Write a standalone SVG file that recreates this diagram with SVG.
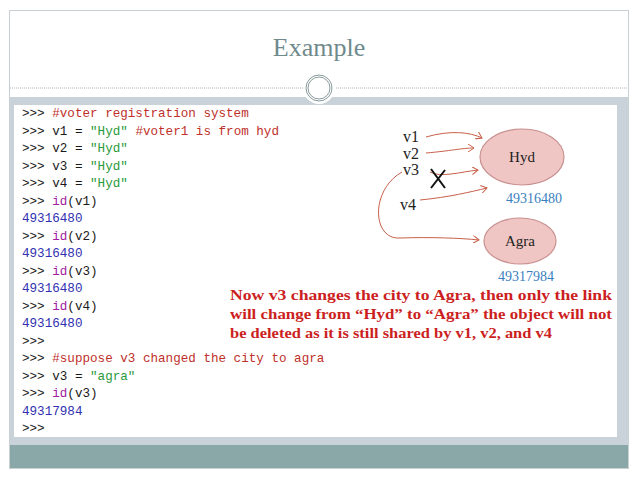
<svg xmlns="http://www.w3.org/2000/svg" width="638" height="478" viewBox="0 0 638 478" xml:space="preserve">
<style>
.c{font-family:"Liberation Mono",monospace;font-size:12.6px}
.p{fill:#1a1a1a}.r{fill:#c0302a}.g{fill:#2a9a3a}.b{fill:#3030b0}.m{fill:#a020a0}
.s{font-family:"Liberation Serif",serif}
.e{fill:#f0c6c4;stroke:#c89090;stroke-width:1.2}
.a{fill:none;stroke:#c8604a;stroke-width:1}
</style>
<defs><marker id="ar" markerWidth="8" markerHeight="8" refX="6" refY="4" orient="auto" markerUnits="userSpaceOnUse"><path d="M0,0 L6,4 L0,8" fill="none" stroke="#c8604a"/></marker></defs>
<rect width="638" height="478" fill="#fff"/>
<rect x="9.5" y="10.5" width="619" height="458" fill="none" stroke="#c8d0d4"/>
<text x="319" y="56" text-anchor="middle" class="s" font-size="26" fill="#6f8a8c">Example</text>
<line x1="10" y1="88" x2="628" y2="88" stroke="#aab4b8" stroke-dasharray="1,1"/>
<rect x="10" y="97" width="618" height="348" fill="#c8d2d8"/>
<rect x="10" y="445" width="618" height="23" fill="#8aa8a8"/>
<circle cx="319" cy="88" r="16" fill="#fff"/>
<circle cx="319" cy="88" r="13" fill="none" stroke="#8a9a9c"/>
<circle cx="319" cy="88" r="11" fill="none" stroke="#8a9a9c"/>
<rect x="14" y="105" width="603" height="332" fill="#fff"/>
<g id="code" class="c">
<text x="22" y="117"><tspan class="p">&gt;&gt;&gt; </tspan><tspan class="r">#voter registration system</tspan></text>
<text x="22" y="134.5"><tspan class="p">&gt;&gt;&gt; v1 = </tspan><tspan class="g">"Hyd"</tspan><tspan class="r">  #voter1 is from hyd</tspan></text>
<text x="22" y="152"><tspan class="p">&gt;&gt;&gt; v2 = </tspan><tspan class="g">"Hyd"</tspan></text>
<text x="22" y="169.5"><tspan class="p">&gt;&gt;&gt; v3 = </tspan><tspan class="g">"Hyd"</tspan></text>
<text x="22" y="187"><tspan class="p">&gt;&gt;&gt; v4 = </tspan><tspan class="g">"Hyd"</tspan></text>
<text x="22" y="204.5"><tspan class="p">&gt;&gt;&gt; </tspan><tspan class="m">id</tspan><tspan class="p">(v1)</tspan></text>
<text x="22" y="222" class="b">49316480</text>
<text x="22" y="239.5"><tspan class="p">&gt;&gt;&gt; </tspan><tspan class="m">id</tspan><tspan class="p">(v2)</tspan></text>
<text x="22" y="257" class="b">49316480</text>
<text x="22" y="274.5"><tspan class="p">&gt;&gt;&gt; </tspan><tspan class="m">id</tspan><tspan class="p">(v3)</tspan></text>
<text x="22" y="292" class="b">49316480</text>
<text x="22" y="309.5"><tspan class="p">&gt;&gt;&gt; </tspan><tspan class="m">id</tspan><tspan class="p">(v4)</tspan></text>
<text x="22" y="327" class="b">49316480</text>
<text x="22" y="344.5" class="p">&gt;&gt;&gt;</text>
<text x="22" y="362"><tspan class="p">&gt;&gt;&gt; </tspan><tspan class="r">#suppose v3 changed the city to agra</tspan></text>
<text x="22" y="379.5"><tspan class="p">&gt;&gt;&gt; v3 = </tspan><tspan class="g">"agra"</tspan></text>
<text x="22" y="397"><tspan class="p">&gt;&gt;&gt; </tspan><tspan class="m">id</tspan><tspan class="p">(v3)</tspan></text>
<text x="22" y="414.5" class="b">49317984</text>
<text x="22" y="432" class="p">&gt;&gt;&gt;</text>
</g>
<g id="hyd"><ellipse class="e" cx="522" cy="157" rx="42" ry="28"/><text x="522" y="162" text-anchor="middle" class="s" font-size="15" fill="#222">Hyd</text></g>
<g id="agra"><ellipse class="e" cx="520" cy="241" rx="36" ry="23"/><text x="520" y="246" text-anchor="middle" class="s" font-size="15" fill="#222">Agra</text></g>
<g id="labels" class="s" font-size="16" fill="#222">
<text x="403" y="142">v1</text><text x="403" y="159">v2</text><text x="403" y="175">v3</text><text x="400" y="210">v4</text>
<text x="534" y="203" text-anchor="middle" font-size="14" fill="#3a80c0">49316480</text>
<text x="526" y="281" text-anchor="middle" font-size="14" fill="#3a80c0">49317984</text>
</g>
<g id="connectors">
<path class="a" d="M426,137 C450,130 470,132 482,138" marker-end="url(#ar)"/>
<path class="a" d="M426,153 C450,151 462,148 474,148" marker-end="url(#ar)"/>
<path class="a" d="M430,172 C440,178 460,172 478,170" marker-end="url(#ar)"/>
<path class="a" d="M420,200 C450,197 470,192 487,188" marker-end="url(#ar)"/>
<path class="a" d="M402,172 C370,190 372,240 400,238 C430,237 460,238 479,240" marker-end="url(#ar)"/>
<path d="M431,169 L445,188 M445,170 L431,188" stroke="#111" stroke-width="2"/>
</g>
<g id="note" class="s" font-size="15" font-weight="bold" fill="#cc1f1f">
<text x="230" y="300" textLength="382" lengthAdjust="spacingAndGlyphs">Now  v3 changes the city to Agra, then only the link</text>
<text x="230" y="319" textLength="382" lengthAdjust="spacingAndGlyphs">will change from “Hyd” to “Agra” the object will not</text>
<text x="230" y="338" textLength="322" lengthAdjust="spacingAndGlyphs">be deleted as it is still shared by v1, v2, and v4</text>
</g>
</svg>
